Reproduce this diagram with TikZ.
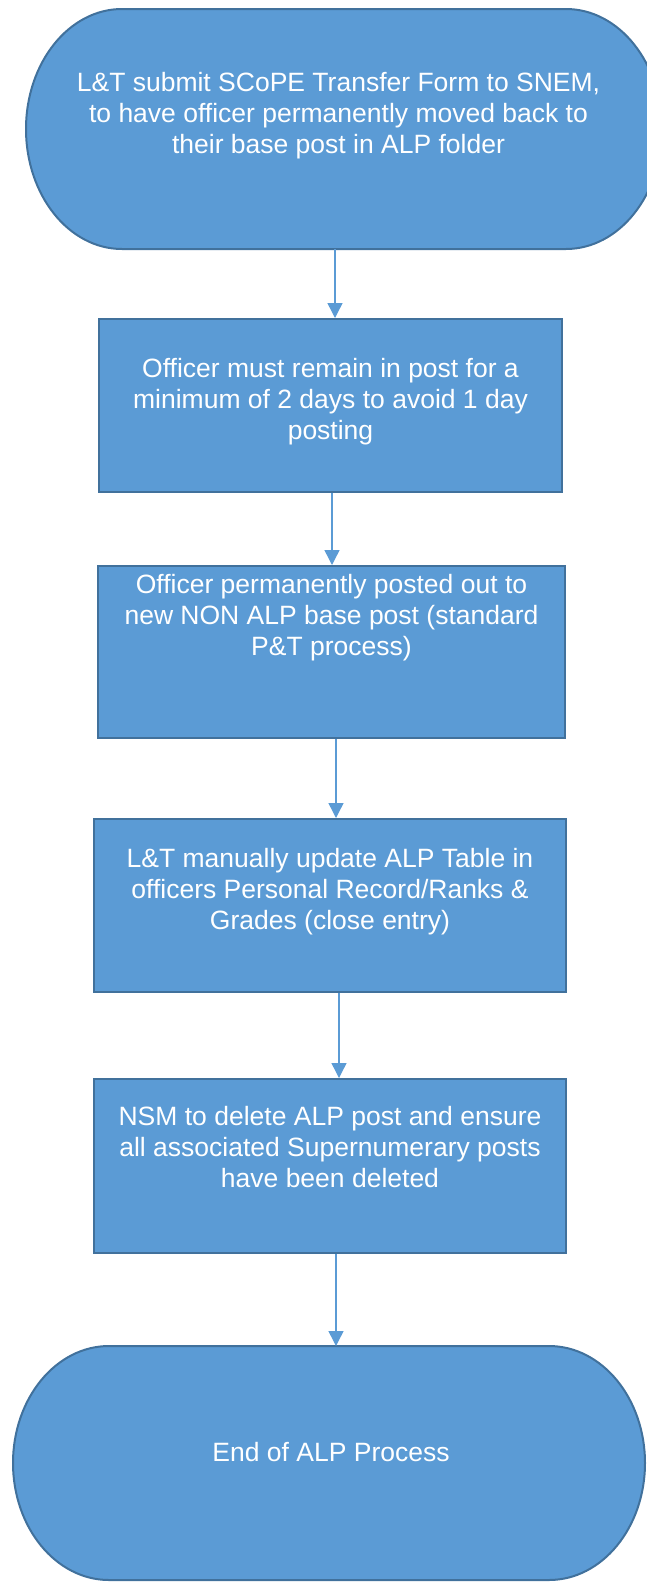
\documentclass[tikz,border=0pt]{standalone}
\usepackage{fontspec}
\setmainfont{Liberation Sans}
\usetikzlibrary{arrows.meta,calc}
\definecolor{stepBlue}{HTML}{5B9BD5}
\definecolor{stepEdge}{HTML}{41719C}

\begin{document}
\begin{tikzpicture}[
  x=1pt, y=1pt,
  font=\fontsize{26.5}{31}\selectfont,
  >={Triangle[length=15pt,width=15pt]},
  stepbox/.style={
    rectangle, draw=stepEdge, fill=stepBlue, line width=2pt, inner sep=0pt
  },
  termbox/.style={rectangle, inner sep=0pt, outer sep=0pt},
  termshape/.style={draw=stepEdge, fill=stepBlue, line width=2pt},
  steptext/.style={text=white, align=center, inner sep=0pt},
  flow/.style={->, draw=stepBlue, fill=stepBlue, line width=1.4pt},
]

\useasboundingbox (0,0) rectangle (646,-1583);

% start terminator, its right end runs off the page
\node[termbox, minimum width=636pt, minimum height=240pt] (start) at (344,-129) {};
\path[termshape] ([xshift=96pt]start.north west) -- ([xshift=-96pt]start.north east)
  arc[start angle=90, end angle=-90, x radius=96pt, y radius=120pt]
  -- ([xshift=96pt]start.south west)
  arc[start angle=270, end angle=90, x radius=96pt, y radius=120pt] -- cycle;
\node[steptext] (starttext) at (338.5,-116)
  {L\&T submit SCoPE Transfer Form to SNEM,\\
   to have officer permanently moved back to\\
   their base post in ALP folder};

% process steps
\node[stepbox, minimum width=463pt, minimum height=173pt] (b1) at (330.5,-405.5) {};
\node[steptext] (b1text) at (330.5,-402)
  {Officer must remain in post for a\\
   minimum of 2 days to avoid 1 day\\
   posting};

\node[stepbox, minimum width=467pt, minimum height=172pt] (b2) at (331.5,-652) {};
\node[steptext] (b2text) at (331.5,-617.5)
  {Officer permanently posted out to\\
   new NON ALP base post (standard\\
   P\&T process)};

\node[stepbox, minimum width=472pt, minimum height=173pt] (b3) at (330,-905.5) {};
\node[steptext] (b3text) at (330,-892)
  {L\&T manually update ALP Table in\\
   officers Personal Record/Ranks \&\\
   Grades (close entry)};

\node[stepbox, minimum width=472pt, minimum height=174pt] (b4) at (330,-1166) {};
\node[steptext] (b4text) at (330,-1147.3)
  {NSM to delete ALP post and ensure\\
   all associated Supernumerary posts\\
   have been deleted};

% end terminator
\node[termbox, minimum width=632pt, minimum height=234pt] (finish) at (329,-1463) {};
\path[termshape] ([xshift=96pt]finish.north west) -- ([xshift=-96pt]finish.north east)
  arc[start angle=90, end angle=-90, x radius=96pt, y radius=117pt]
  -- ([xshift=96pt]finish.south west)
  arc[start angle=270, end angle=90, x radius=96pt, y radius=117pt] -- cycle;
\node[steptext] (finishtext) at (331,-1452) {End of ALP Process};

\draw[flow] ([xshift=4.5pt]start.south -| b1.north) -- ([xshift=4.5pt]b1.north);
\draw[flow] ([xshift=0.5pt]b1.south -| b2.north) -- ([xshift=0.5pt]b2.north);
\draw[flow] ([xshift=6pt]b2.south -| b3.north) -- ([xshift=6pt]b3.north);
\draw[flow] ([xshift=9pt]b3.south -| b4.north) -- ([xshift=9pt]b4.north);
\draw[flow] ([xshift=7pt]b4.south -| finish.north) -- ([xshift=7pt]finish.north);

\end{tikzpicture}
\end{document}
